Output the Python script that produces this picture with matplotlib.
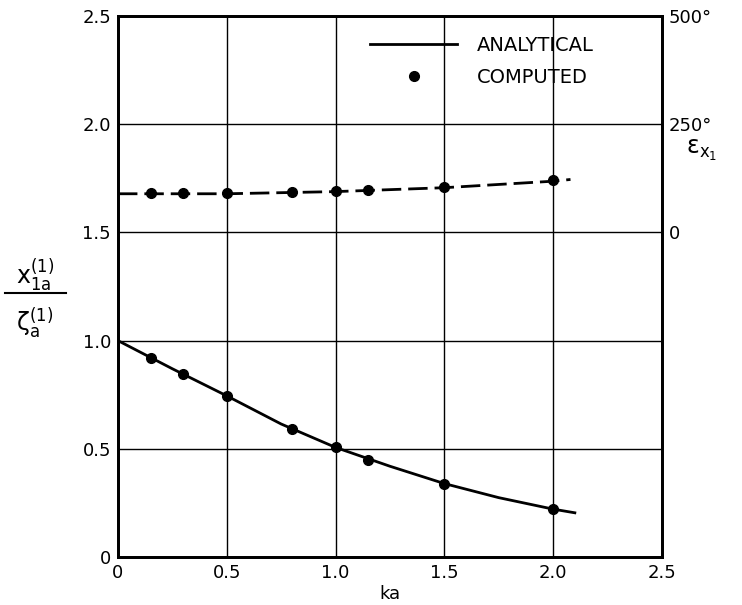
import matplotlib
matplotlib.use('Agg')
import matplotlib.pyplot as plt
from matplotlib.lines import Line2D

plt.rcParams['font.family'] = ['DejaVu Sans']
plt.rcParams['mathtext.fontset'] = 'custom'
plt.rcParams['mathtext.rm'] = 'DejaVu Sans'
plt.rcParams['mathtext.it'] = 'DejaVu Sans'

# analytical amplitude curve
ka_curve = [0.0, 0.25, 0.5, 0.75, 1.0, 1.25, 1.5, 1.75, 2.0, 2.1]
amp_curve = [1.0, 0.87, 0.745, 0.615, 0.507, 0.42, 0.34, 0.275, 0.222, 0.205]

# computed amplitude points
ka_pts = [0.15, 0.3, 0.5, 0.8, 1.0, 1.15, 1.5, 2.0]
amp_pts = [0.919, 0.845, 0.743, 0.591, 0.508, 0.449, 0.34, 0.222]

# phase (degrees, right axis)
ka_phase = [0.0, 0.5, 1.0, 1.5, 2.0, 2.08]
phase_curve = [89, 89, 94, 103, 118, 122]
phase_pts = [90, 90, 90, 92, 95, 97, 105, 120]

fig = plt.figure(figsize=(7.42, 6.05), dpi=100)
ax = fig.add_axes([0.159, 0.079, 0.733, 0.895])

ax.plot(ka_curve, amp_curve, color='black', linewidth=2, label='ANALYTICAL')
ax.plot(ka_pts, amp_pts, 'o', color='black', markersize=7, label='COMPUTED')

ax.set_xlim(0, 2.5)
ax.set_ylim(0, 2.5)
ax.set_xticks([0, 0.5, 1.0, 1.5, 2.0, 2.5])
ax.set_xticklabels(['0', '0.5', '1.0', '1.5', '2.0', '2.5'])
ax.set_yticks([0, 0.5, 1.0, 1.5, 2.0, 2.5])
ax.set_yticklabels(['0', '0.5', '1.0', '1.5', '2.0', '2.5'])
ax.tick_params(length=0, labelsize=13, pad=5)
ax.grid(True, color='black', linewidth=1)
for s in ax.spines.values():
    s.set_linewidth(2)

ax.set_xlabel('ka', fontsize=13, labelpad=2)

# right axis: phase in degrees
ax2 = ax.twinx()
ax2.plot(ka_phase, phase_curve, color='black', linewidth=2, dashes=(7, 2.5))
ax2.plot(ka_pts, phase_pts, 'o', color='black', markersize=7)
ax2.set_ylim(-750, 500)
ax2.set_yticks([0, 250, 500])
ax2.set_yticklabels(['0', '250°', '500°'])
ax2.tick_params(length=0, labelsize=13, pad=5)
for s in ax2.spines.values():
    s.set_linewidth(2)

fig.text(0.925, 0.745, r'ε$_{\mathrm{x}_1}$', fontsize=17)

# left label as a stacked fraction
fig.text(0.047, 0.545, r'$\mathrm{x}_{\mathrm{1a}}^{(1)}$', fontsize=17,
         ha='center', va='center')
fig.text(0.047, 0.465, r'$\mathrm{\zeta}_{\mathrm{a}}^{(1)}$', fontsize=17,
         ha='center', va='center')
fig.add_artist(Line2D([0.007, 0.089], [0.516, 0.516], color='black',
                      linewidth=1.5, transform=fig.transFigure))

ax.legend(loc='upper right', bbox_to_anchor=(0.907, 0.995), frameon=False,
          handlelength=4.5, fontsize=14, labelspacing=0.65, handletextpad=1.0)

fig.savefig('out.png', dpi=100)
